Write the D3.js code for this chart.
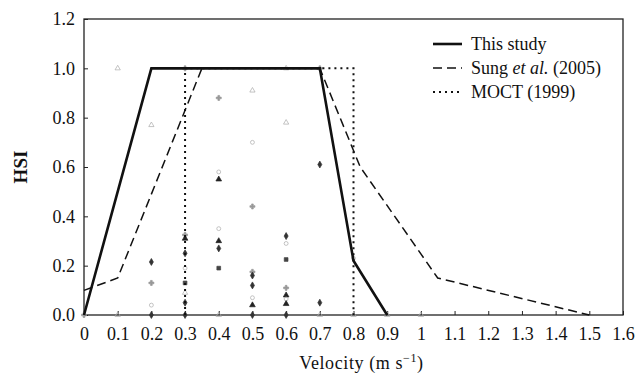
<!DOCTYPE html>
<html>
<head>
<meta charset="utf-8">
<script src="https://cdn.jsdelivr.net/npm/d3@7"></script>
<style>
  body { margin: 0; background: #fff; }
  text { font-family: "Liberation Serif", "Times New Roman", serif; fill: #111; }
</style>
</head>
<body>
<div id="chart"></div>
<script>
// curves
const thisStudyV = [0, 0.2, 0.7, 0.8, 0.9]
const thisStudyH = [0, 1.0, 1.0, 0.22, 0]
const sungV = [0, 0.1, 0.35, 0.7, 0.82, 1.05, 1.5]
const sungH = [0.1, 0.15, 1.0, 1.0, 0.6, 0.15, 0]
const moctV = [0.3, 0.3, 0.8, 0.8]
const moctH = [0, 1.0, 1.0, 0]

// observed points (velocity, HSI, group)
const obsV = [0, 0.1, 0.1,
  0.2, 0.2, 0.2, 0.2, 0.2,
  0.3, 0.3, 0.3, 0.3, 0.3, 0.3, 0.3, 0.3, 0.3,
  0.4, 0.4, 0.4, 0.4, 0.4, 0.4, 0.4, 0.4,
  0.5, 0.5, 0.5, 0.5, 0.5, 0.5, 0.5, 0.5, 0.5,
  0.6, 0.6, 0.6, 0.6, 0.6, 0.6, 0.6, 0.6, 0.6, 0.6,
  0.7, 0.7, 0.7, 0.7,
  0.8, 0.8, 0.9, 1.0]
const obsH = [0, 1.0, 0,
  0.77, 0.215, 0.13, 0.04, 0,
  1.0, 0.325, 0.31, 0.25, 0.19, 0.13, 0.09, 0.05, 0,
  0.88, 0.58, 0.55, 0.35, 0.30, 0.27, 0.19, 0,
  0.91, 0.70, 0.44, 0.175, 0.16, 0.12, 0.07, 0.04, 0,
  1.0, 0.78, 0.32, 0.29, 0.225, 0.11, 0.08, 0.065, 0.045, 0,
  1.0, 0.61, 0.05, 0,
  0.23, 0, 0, 0]
const obsG = ["d", "f", "f",
  "f", "b", "d", "e", "b",
  "d", "d", "a", "b", "e", "c", "f", "b", "b",
  "d", "e", "a", "e", "a", "b", "c", "f",
  "f", "e", "d", "d", "b", "b", "e", "a", "b",
  "f", "f", "b", "e", "c", "d", "a", "e", "a", "b",
  "d", "b", "b", "f",
  "e", "f", "f", "f"]

const groups = ["a", "b", "c", "d", "e", "f"]
const xTicks = [0, 0.1, 0.2, 0.3, 0.4, 0.5, 0.6, 0.7, 0.8, 0.9, 1, 1.1, 1.2, 1.3, 1.4, 1.5, 1.6]
const yTicks = [0, 0.2, 0.4, 0.6, 0.8, 1.0, 1.2]
const legendNames = ["This study", "Sung et al.", "MOCT"]

const width = 640
const height = 378
const margin = {top: 19, right: 17, bottom: 63, left: 84}

const svg = d3.select("#chart")
  .append("svg")
  .attr("width", width)
  .attr("height", height)

const x = d3.scaleLinear().domain([0, 1.6]).range([margin.left, width - margin.right])
const y = d3.scaleLinear().domain([0, 1.2]).range([height - margin.bottom, margin.top])

const shape = d3.scaleOrdinal().domain(groups)
  .range([d3.symbolTriangle, d3.symbolDiamond, d3.symbolSquare, d3.symbolCross, d3.symbolCircle, d3.symbolTriangle])
const fill = d3.scaleOrdinal().domain(groups)
  .range(["#222", "#333", "#444", "#999", "none", "none"])
const stroke = d3.scaleOrdinal().domain(groups)
  .range(["#222", "#333", "#444", "#999", "#aaa", "#aaa"])

// axes with inward ticks
const xAxis = d3.axisBottom(x).tickValues(xTicks).tickSize(-4).tickPadding(12)
  .tickFormat(d => d === 0 || d === 1 ? d3.format("d")(d) : d3.format(".1f")(d))
const yAxis = d3.axisLeft(y).tickValues(yTicks).tickSize(-4).tickPadding(9)
  .tickFormat(d3.format(".1f"))

const gx = svg.append("g")
  .attr("transform", `translate(0,${height - margin.bottom})`)
  .call(xAxis)
gx.select(".domain").remove()
gx.selectAll("line").attr("stroke", "#222")
gx.selectAll("text").style("font-size", "18px").style("font-family", "Liberation Serif").attr("fill", "#111")

const gy = svg.append("g")
  .attr("transform", `translate(${margin.left},0)`)
  .call(yAxis)
gy.select(".domain").remove()
gy.selectAll("line").attr("stroke", "#222")
gy.selectAll("text").style("font-size", "18px").style("font-family", "Liberation Serif").attr("fill", "#111")

// frame
svg.append("rect")
  .attr("x", x(0)).attr("y", y(1.2))
  .attr("width", x(1.6) - x(0)).attr("height", y(0) - y(1.2))
  .attr("fill", "none").attr("stroke", "#222").attr("stroke-width", 1.3)

// observed points
const obs = obsV.map((v, i) => ({v: v, h: obsH[i], g: obsG[i]}))
svg.append("g")
  .selectAll("path")
  .data(obs)
  .join("path")
    .attr("transform", d => `translate(${x(d.v)},${y(d.h)})`)
    .attr("d", d => d3.symbol().type(shape(d.g)).size(d.g === "e" || d.g === "f" ? 12 : 14)())
    .attr("fill", d => fill(d.g))
    .attr("stroke", d => stroke(d.g))
    .attr("stroke-width", 0.7)

const line = d3.line().x(d => x(d[0])).y(d => y(d[1]))

// MOCT (dotted)
svg.append("path")
  .datum(moctV.map((v, i) => [v, moctH[i]]))
  .attr("d", line)
  .attr("fill", "none")
  .attr("stroke", "#111")
  .attr("stroke-width", 2)
  .attr("stroke-dasharray", "2,4")

// Sung et al. (dashed)
svg.append("path")
  .datum(sungV.map((v, i) => [v, sungH[i]]))
  .attr("d", line)
  .attr("fill", "none")
  .attr("stroke", "#111")
  .attr("stroke-width", 1.5)
  .attr("stroke-dasharray", "9,5")

// this study (solid)
svg.append("path")
  .datum(thisStudyV.map((v, i) => [v, thisStudyH[i]]))
  .attr("d", line)
  .attr("fill", "none")
  .attr("stroke", "#111")
  .attr("stroke-width", 2.6)

// legend
const leg = svg.append("g").attr("transform", "translate(433,44)")
const dashes = [null, "9,5", "2,4"]
const widths = [2.6, 1.5, 2]
legendNames.forEach((name, i) => {
  const row = leg.append("g").attr("transform", `translate(0,${i * 24})`)
  row.append("line")
    .attr("x1", 0).attr("x2", 29).attr("y1", 0).attr("y2", 0)
    .attr("stroke", "#111").attr("stroke-width", widths[i])
    .attr("stroke-dasharray", dashes[i])
  const t = row.append("text").attr("x", 38).attr("y", 6).style("font-size", "18px")
  if (i === 0) t.text(name)
  if (i === 1) {
    t.append("tspan").text("Sung ")
    t.append("tspan").style("font-style", "italic").text("et al.")
    t.append("tspan").text(" (2005)")
  }
  if (i === 2) t.text(name + " (1999)")
})

// axis titles
svg.append("text")
  .attr("x", (x(0) + x(1.6)) / 2 + 8)
  .attr("y", 369)
  .attr("text-anchor", "middle")
  .style("font-size", "18px")
  .style("letter-spacing", "0.6px")
  .html('Velocity (m s<tspan dy="-7" font-size="12px">−1</tspan><tspan dy="7">)</tspan>')

svg.append("text")
  .attr("transform", `translate(27,${(y(0) + y(1.2)) / 2}) rotate(-90)`)
  .attr("text-anchor", "middle")
  .style("font-size", "19px")
  .style("font-weight", "bold")
  .text("HSI")
</script>
</body>
</html>
